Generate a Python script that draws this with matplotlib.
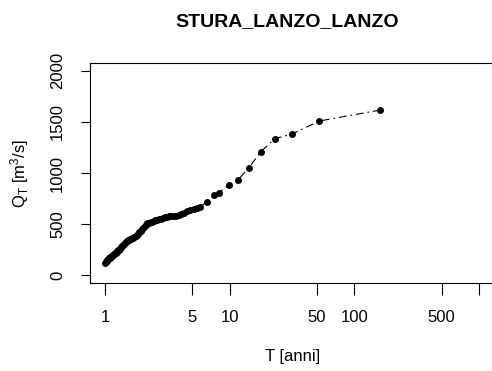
import matplotlib
matplotlib.use("Agg")
import matplotlib.pyplot as plt

plt.rcParams['font.family'] = ['Liberation Sans', 'DejaVu Sans']
plt.rcParams['mathtext.fontset'] = 'custom'
plt.rcParams['mathtext.rm'] = 'Liberation Sans'
plt.rcParams['mathtext.it'] = 'Liberation Sans'

title = "STURA_LANZO_LANZO"

# return period T [anni] and discharge Q_T [m3/s]
T = [162, 52.4, 31.6, 23.1, 17.8, 14.3, 11.6, 9.8, 8.24, 7.47, 6.59, 5.74, 5.45,
     5.161, 4.848, 4.571, 4.324, 4.103, 3.902, 3.721, 3.556, 3.404, 3.265,
     3.137, 3.019, 2.909, 2.807, 2.712, 2.623, 2.540, 2.462, 2.388, 2.319,
     2.254, 2.192, 2.133, 2.078, 2.025, 1.975, 1.928, 1.882, 1.839, 1.798,
     1.758, 1.720, 1.684, 1.649, 1.616, 1.584, 1.553, 1.524, 1.495, 1.468,
     1.441, 1.416, 1.391, 1.368, 1.345, 1.322, 1.301, 1.280, 1.260, 1.240,
     1.221, 1.203, 1.185, 1.168, 1.151, 1.135, 1.119, 1.103, 1.088, 1.074,
     1.060, 1.046, 1.032, 1.019, 1.006]
Q = [1617, 1509, 1382, 1336, 1209, 1052, 931, 882, 809, 780, 719, 664, 655,
     650, 640, 628, 612, 602, 592, 580, 578, 577, 575,
     573, 569, 562, 554, 547, 541, 535, 528, 522, 518,
     512, 507, 495, 482, 466, 452, 435, 420, 402, 390,
     382, 374, 365, 359, 356, 352, 348, 345, 338, 328,
     318, 308, 299, 290, 276, 260, 248, 242, 234, 226,
     220, 213, 206, 200, 194, 188, 182, 176, 170, 164,
     157, 150, 140, 130, 118]

x_ticks = [1, 5, 10, 50, 100, 500, 1000]
x_ticklabels = ['1', '5', '10', '50', '100', '500', '']
y_ticks = [0, 500, 1000, 1500, 2000]

fig = plt.figure(figsize=(4.92, 3.71), dpi=100)
ax = fig.add_axes([90/492, 1 - 283.3/371, 404/492, 220.6/371])

ax.plot(T, Q, color='black', linestyle=(0, (7, 3.5, 1.5, 3.5)), linewidth=0.8,
        marker='o', markersize=5, markeredgewidth=0)

ax.set_xscale('log')
ax.set_xlim(10**-0.12, 10**3.12)
ax.set_ylim(-80, 2080)

ax.set_xticks(x_ticks)
ax.set_xticklabels(x_ticklabels)
ax.xaxis.set_minor_locator(matplotlib.ticker.NullLocator())
ax.set_yticks(y_ticks)
ax.set_yticklabels([str(v) for v in y_ticks], rotation=90, va='center')

ax.tick_params(axis='x', direction='out', length=8.4, width=0.8, pad=11, labelsize=12)
ax.tick_params(axis='y', direction='out', length=6.5, width=0.8, pad=11.5, labelsize=12)
for s in ax.spines.values():
    s.set_linewidth(0.8)

ax.set_xlabel("T [anni]", fontsize=12)
ax.xaxis.set_label_coords((293 - 90)/404, (283.3 - 356.7)/220.6)
ax.set_ylabel(r"Q$_{\mathrm{T}}$ [m$^{\mathrm{3}}$/s]", fontsize=12)
ax.yaxis.set_label_coords((20 - 90)/404, 0.5)
for lab in (ax.xaxis.label, ax.yaxis.label):
    lab.set_va('center')

fig.text(287/492, 1 - 22/371, title, ha='center', va='center',
         fontsize=14, fontweight='bold')

fig.savefig("out.png", dpi=100)
